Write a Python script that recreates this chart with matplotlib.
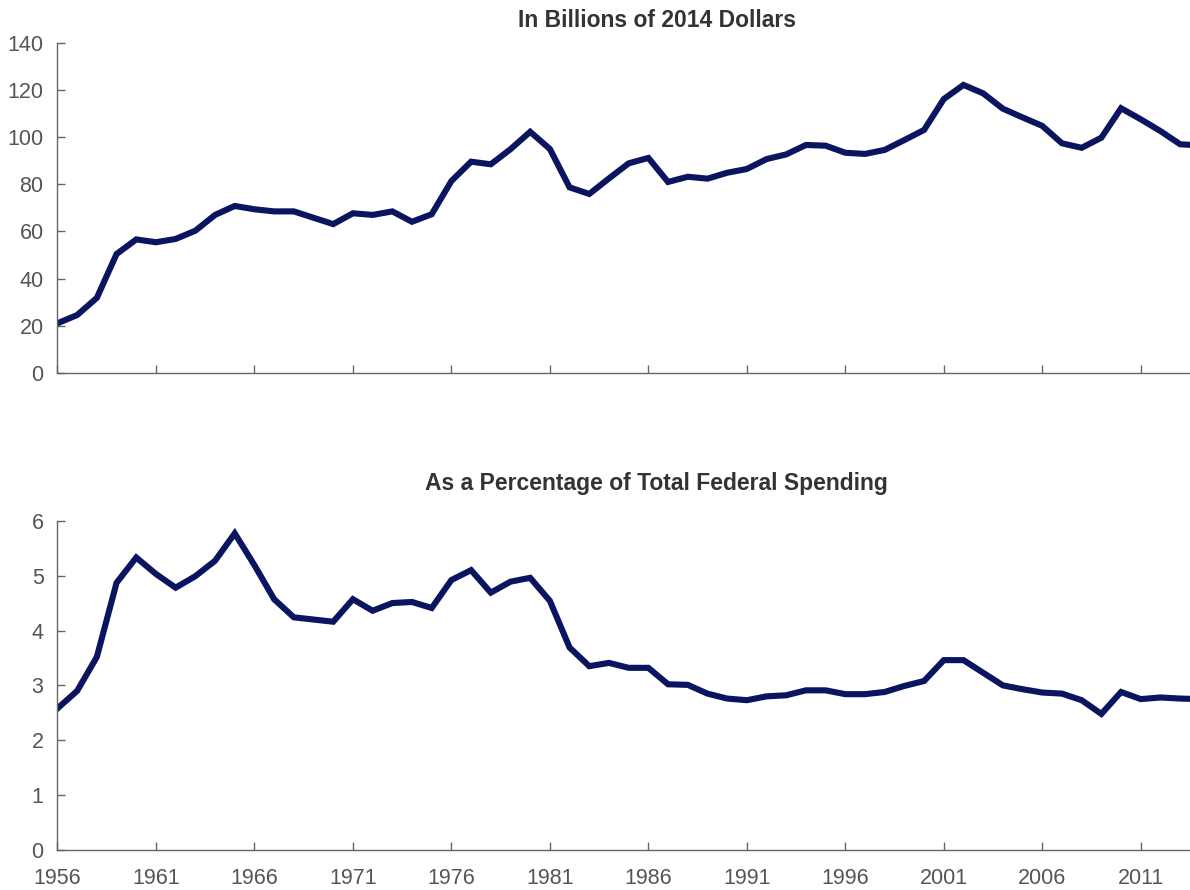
import numpy as np
import matplotlib
matplotlib.use("Agg")
import matplotlib.pyplot as plt
from matplotlib import font_manager

# Years shown on both panels
years = list(range(1956, 2015))

# Spending in billions of 2014 dollars
billions = [21.0, 24.5, 31.8, 50.4, 56.6, 55.4, 56.8, 60.3, 67.0, 70.8,
            69.4, 68.5, 68.5, 65.8, 63.1, 67.7, 67.0, 68.5, 64.1, 67.3,
            81.4, 89.6, 88.5, 94.9, 102.3, 95.0, 78.7, 75.9, 82.5, 88.9,
            91.2, 81.0, 83.2, 82.4, 84.9, 86.5, 90.7, 92.7, 96.7, 96.4,
            93.4, 92.9, 94.6, 98.8, 103.1, 116.2, 122.2, 118.6, 112.1, 108.4,
            104.8, 97.4, 95.5, 99.8, 112.3, 107.6, 102.6, 97.0, 96.5]

# Spending as a percentage of total federal spending
percent = [2.58, 2.90, 3.52, 4.87, 5.33, 5.03, 4.78, 4.99, 5.27, 5.77,
           5.19, 4.57, 4.24, 4.20, 4.16, 4.57, 4.36, 4.50, 4.52, 4.41,
           4.92, 5.10, 4.69, 4.89, 4.96, 4.54, 3.69, 3.35, 3.41, 3.32,
           3.32, 3.02, 3.01, 2.85, 2.76, 2.73, 2.80, 2.82, 2.91, 2.91,
           2.84, 2.84, 2.88, 2.99, 3.08, 3.46, 3.46, 3.23, 3.00, 2.93,
           2.87, 2.85, 2.73, 2.48, 2.88, 2.75, 2.78, 2.76, 2.75]

x_ticks = list(range(1956, 2012, 5))

installed = {f.name for f in font_manager.fontManager.ttflist}
fam = 'Liberation Sans Narrow' if 'Liberation Sans Narrow' in installed else 'Liberation Sans'
plt.rcParams['font.family'] = [fam, 'DejaVu Sans']

line_color = '#0a145f'
axis_color = '#666666'
text_color = '#555555'

fig = plt.figure(figsize=(11.9, 8.9), dpi=100)
ax1 = fig.add_axes([0.0483, 0.5812, 0.9517, 0.3705])
ax2 = fig.add_axes([0.0483, 0.0449, 0.9517, 0.3700])

for ax in (ax1, ax2):
    ax.spines['top'].set_visible(False)
    ax.spines['right'].set_visible(False)
    for s in ('left', 'bottom'):
        ax.spines[s].set_color(axis_color)
        ax.spines[s].set_linewidth(1.0)
    ax.set_xlim(1956, 2013.5)
    ax.set_xticks(x_ticks)
    ax.tick_params(axis='both', direction='in', length=6, width=1,
                   color=axis_color, labelcolor=text_color, labelsize=15.5)
    ax.tick_params(axis='y', pad=10)
    ax.tick_params(axis='x', pad=13)

ax1.plot(years, billions, color=line_color, lw=4.4, solid_joinstyle='miter')
ax1.set_ylim(0, 140)
ax1.set_yticks(range(0, 141, 20))
ax1.set_xticklabels([])

ax2.plot(years, percent, color=line_color, lw=4.4, solid_joinstyle='miter')
ax2.set_ylim(0, 6)
ax2.set_yticks(range(0, 7))

fig.text(0.552, 0.977, 'In Billions of 2014 Dollars', ha='center', va='center',
         fontsize=16.5, fontweight='bold', color='#333333')
fig.text(0.552, 0.457, 'As a Percentage of Total Federal Spending', ha='center',
         va='center', fontsize=16.5, fontweight='bold', color='#333333')

fig.savefig('out.png', dpi=100)
